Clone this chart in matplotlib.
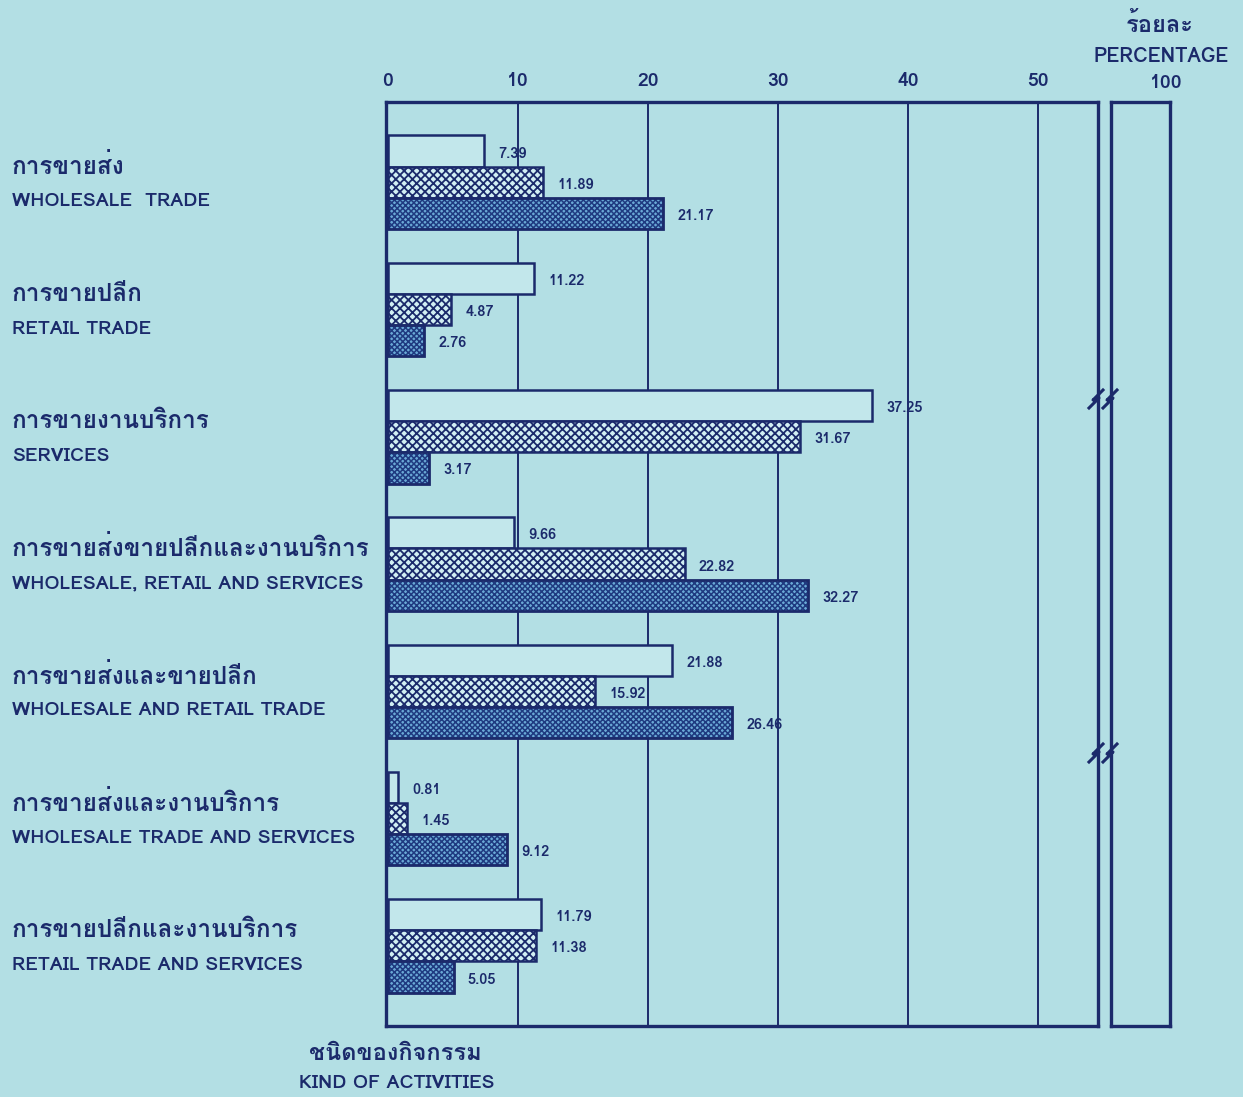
import matplotlib
matplotlib.use("Agg")
import matplotlib.pyplot as plt
import numpy as np
from matplotlib import font_manager
from matplotlib.ft2font import FT2Font
from matplotlib.transforms import blended_transform_factory

# Data
categories_th = ["การขายส่ง", "การขายปลีก", "การขายงานบริการ",
                 "การขายส่งขายปลีกและงานบริการ", "การขายส่งและขายปลีก",
                 "การขายส่งและงานบริการ", "การขายปลีกและงานบริการ"]
categories_en = ["WHOLESALE  TRADE", "RETAIL TRADE", "SERVICES",
                 "WHOLESALE, RETAIL AND SERVICES", "WHOLESALE AND RETAIL TRADE",
                 "WHOLESALE TRADE AND SERVICES", "RETAIL TRADE AND SERVICES"]
series1 = [7.39, 11.22, 37.25, 9.66, 21.88, 0.81, 11.79]
series2 = [11.89, 4.87, 31.67, 22.82, 15.92, 1.45, 11.38]
series3 = [21.17, 2.76, 3.17, 32.27, 26.46, 9.12, 5.05]
xticks = [0, 10, 20, 30, 40, 50]

# find a font with thai glyphs
thai_font = None
for f in font_manager.fontManager.ttflist:
    try:
        if 0x0E01 in FT2Font(f.fname).get_charmap():
            thai_font = f.name
            break
    except Exception:
        pass
fams = ([thai_font] if thai_font else []) + ["Lato", "DejaVu Sans"]
plt.rcParams["font.family"] = fams

bg = "#b3dfe4"
navy = "#1b2a6b"

fig = plt.figure(figsize=(12.43, 10.97), dpi=100, facecolor=bg)
ax = fig.add_axes([386 / 1243, 1 - 1026 / 1097, (1098 - 386) / 1243, 924 / 1097])
ax.set_facecolor(bg)

y = np.arange(len(series1))
h = 0.245
ax.barh(y - h, series1, height=h, color="#c2e7eb", edgecolor=navy, linewidth=1.8, zorder=3)
plt.rcParams["hatch.linewidth"] = 1.3
ax.barh(y, series2, height=h, color="#d2eff3", edgecolor=navy, hatch="xxxx", linewidth=1.8, zorder=3)
plt.rcParams["hatch.linewidth"] = 1.1
ax.barh(y + h, series3, height=h, color="#6aa9d6", edgecolor="#1f3a80", hatch="xxxxxx", linewidth=0, zorder=3)
ax.barh(y + h, series3, height=h, color="none", edgecolor=navy, linewidth=2.0, zorder=4)

for vals, off in [(series1, -h), (series2, 0), (series3, h)]:
    for i, v in enumerate(vals):
        ax.text(v + 1.1, i + off + 0.02, f"{v:.2f}", va="center", ha="left",
                fontsize=10.5, color=navy, fontweight="bold")

ax.set_xlim(-0.15, 54.6)
ax.set_ylim(6.63, -0.63)
for t in xticks[1:]:
    ax.axvline(t, color=navy, lw=1.4, zorder=1)
ax.xaxis.tick_top()
ax.set_xticks(xticks)
ax.set_xticklabels([str(t) for t in xticks], fontweight="bold")
ax.tick_params(axis="x", length=0, pad=9, labelsize=14, labelcolor=navy)
ax.set_yticks([])
for s in ax.spines.values():
    s.set_color(navy)
    s.set_linewidth(2.4)

tr = blended_transform_factory(fig.transFigure, ax.transData)
for i, (th, en) in enumerate(zip(categories_th, categories_en)):
    ax.text(12 / 1243, i - 0.12, th, transform=tr, fontsize=17.5, color=navy,
            va="center", ha="left", fontweight="bold")
    ax.text(12 / 1243, i + 0.15, en, transform=tr, fontsize=14, color=navy,
            va="center", ha="left", fontweight="bold")

# second box (100 %)
ax2 = fig.add_axes([1111 / 1243, 1 - 1026 / 1097, 59 / 1243, 924 / 1097])
ax2.set_facecolor(bg)
ax2.set_xticks([])
ax2.set_yticks([])
for s in ax2.spines.values():
    s.set_color(navy)
    s.set_linewidth(2.4)

# break marks
for yb in [398, 752]:
    for xb in [1096, 1110]:
        xs = np.array([-7, 3, -3, 7]) + xb
        ys = np.array([10, 0, 2, -8]) + yb
        fig.add_artist(plt.Line2D(xs / 1243, 1 - ys / 1097, color=navy, lw=2.2))

fig.text(1160 / 1243, 1 - 25 / 1097, "ร้อยละ", ha="center", va="center",
         fontsize=17, color=navy, fontweight="bold")
fig.text(1161 / 1243, 1 - 57 / 1097, "PERCENTAGE", ha="center", va="center",
         fontsize=14.5, color=navy, fontweight="bold")
fig.text(1166 / 1243, 1 - 83 / 1097, "100", ha="center", va="center",
         fontsize=14, color=navy, fontweight="bold")

fig.text(395 / 1243, 1 - 1053 / 1097, "ชนิดของกิจกรรม", ha="center", va="center",
         fontsize=17, color=navy, fontweight="bold")
fig.text(397 / 1243, 1 - 1083 / 1097, "KIND OF ACTIVITIES", ha="center", va="center",
         fontsize=14, color=navy, fontweight="bold")

fig.savefig("out.png", dpi=100, facecolor=bg)
